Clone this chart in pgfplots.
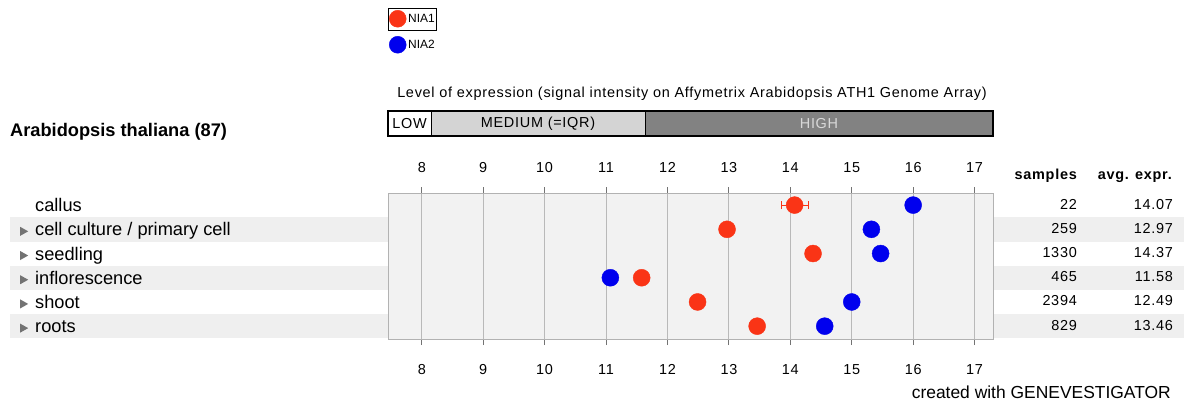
\documentclass[border=0pt]{standalone}
\usepackage{pgfplots}
\pgfplotsset{compat=1.18}
\usepackage{fontspec}
\setmainfont{Liberation Sans}
\newfontfamily\smfont[LetterSpace=5]{Liberation Sans}
\definecolor{niaone}{RGB}{250,52,22}
\definecolor{niatwo}{RGB}{0,0,238}
\definecolor{boxfill}{RGB}{242,242,242}
\definecolor{stripe}{RGB}{239,239,239}
\definecolor{gridc}{RGB}{185,185,185}
\definecolor{medc}{RGB}{212,212,212}
\definecolor{highc}{RGB}{130,130,130}
\newcommand{\rowtri}{\tikz[baseline=0pt]\fill[black!55] (0,0)--(0,9bp)--(8bp,4.5bp)--cycle;}
\newcommand{\sm}{\smfont\fontsize{14.5}{16}\selectfont}
\newcommand{\bg}{\fontsize{18.3}{21}\selectfont}
\begin{document}
\begin{tikzpicture}[x=1bp,y=1bp]
\path (0,0) rectangle (1184,403);
% row stripes
\fill[stripe] (10,403-217) rectangle (1184,403-241.5);
\fill[stripe] (10,403-265.5) rectangle (1184,403-289.5);
\fill[stripe] (10,403-314) rectangle (1184,403-338);
% level bar
\fill[white] (388,403-111) rectangle (431,403-136);
\fill[medc] (431,403-111) rectangle (645,403-136);
\fill[highc] (645,403-111) rectangle (993,403-136);
\draw[black, line width=1.2bp] (388,403-111) rectangle (993,403-136);
\draw[black, line width=1bp] (431,403-111) -- (431,403-136);
\draw[black, line width=1bp] (645,403-111) -- (645,403-136);
\node[font=\sm] at (409.5,403-123.5) {LOW};
\node[font=\sm] at (538,403-123.5) {MEDIUM (=IQR)};
\node[font=\sm, text=black!15] at (819,403-123.5) {HIGH};
\node[font=\sm] at (692,403-94) {Level of expression (signal intensity on Affymetrix Arabidopsis ATH1 Genome Array)};
% left labels
\node[font=\bg\bfseries, anchor=mid west, inner sep=0] at (10,403-134) {Arabidopsis thaliana (87)};
\node[font=\bg, anchor=mid west, inner sep=0] at (35,403-209) {callus};
\node[font=\bg, anchor=mid west, inner sep=0] at (20,403-233.2) {\makebox[15bp][l]{\rowtri}cell culture / primary cell};
\node[font=\bg, anchor=mid west, inner sep=0] at (20,403-257.4) {\makebox[15bp][l]{\rowtri}seedling};
\node[font=\bg, anchor=mid west, inner sep=0] at (20,403-281.6) {\makebox[15bp][l]{\rowtri}inflorescence};
\node[font=\bg, anchor=mid west, inner sep=0] at (20,403-305.8) {\makebox[15bp][l]{\rowtri}shoot};
\node[font=\bg, anchor=mid west, inner sep=0] at (20,403-330) {\makebox[15bp][l]{\rowtri}roots};
% right columns
\node[font=\sm\bfseries, anchor=mid east, inner sep=0] at (1077,403-177) {samples};
\node[font=\sm\bfseries, anchor=mid east, inner sep=0] at (1172,403-177) {avg. expr.};
\foreach \s/\a/\yy in {22/14.07/206.5, 259/12.97/230.7, 1330/14.37/254.9, 465/11.58/279.1, 2394/12.49/303.3, 829/13.46/327.5}{
  \node[font=\sm, anchor=mid east, inner sep=0] at (1077,403-\yy) {\s};
  \node[font=\sm, anchor=mid east, inner sep=0] at (1173,403-\yy) {\a};
}
\node[font=\fontsize{17.5}{20}\selectfont, anchor=mid east, inner sep=0] at (1171,403-395.5) {created with GENEVESTIGATOR};
% main axis
\begin{axis}[
  at={(388bp,64bp)}, anchor=south west,
  width=605bp, height=146bp, scale only axis,
  xmin=7.45, xmax=17.3, ymin=-0.53, ymax=5.5,
  axis background/.style={fill=boxfill},
  axis line style={draw=black!30},
  xtick={8,...,17}, xmajorgrids, grid style={gridc, line width=0.9bp},
  tick align=outside, major tick length=6bp, xtick pos=both, tick style={black!55, line width=0.9bp},
  xticklabel pos=lower, ytick=\empty,
  /pgf/number format/assume math mode=true,
  xticklabel style={font=\sm, yshift=-16bp},
  clip=false,
  legend style={at={(axis description cs:0,2.26)}, anchor=north west, draw=none, fill=none, font=\fontsize{12}{14}\selectfont, row sep=9bp, inner sep=1bp},
  legend cell align=left,
]
\addplot[only marks, mark=*, mark size=8.5bp, color=niaone, mark options={fill=niaone, draw=niaone},
  error bars/.cd, x dir=both, x explicit, error bar style={niaone, line width=1.2bp}, error mark options={niaone, mark size=4bp, rotate=90, line width=1.2bp}]
  coordinates {(14.07,5) +- (0.22,0) (12.97,4) +- (0,0) (14.37,3) +- (0,0) (11.58,2) +- (0,0) (12.49,1) +- (0,0) (13.46,0) +- (0,0)};
\addlegendentry{NIA1}
\addplot[only marks, mark=*, mark size=8.5bp, color=niatwo, mark options={fill=niatwo, draw=niatwo}]
  coordinates {(16.0,5) (15.32,4) (15.47,3) (11.07,2) (15.0,1) (14.56,0)};
\addlegendentry{NIA2}
\end{axis}
% top tick labels
\begin{axis}[
  at={(388bp,64bp)}, anchor=south west,
  width=605bp, height=146bp, scale only axis,
  xmin=7.45, xmax=17.3, ymin=-0.53, ymax=5.5,
  axis line style={draw=none}, hide y axis,
  xtick={8,...,17}, major tick length=0pt, xtick pos=upper, xticklabel pos=upper,
  /pgf/number format/assume math mode=true,
  xticklabel style={font=\sm, yshift=17bp},
]
\addplot[draw=none] coordinates {(8,0)};
\end{axis}
\draw[black, line width=1bp] (388,403-9) rectangle (436,403-31);
\end{tikzpicture}
\end{document}
